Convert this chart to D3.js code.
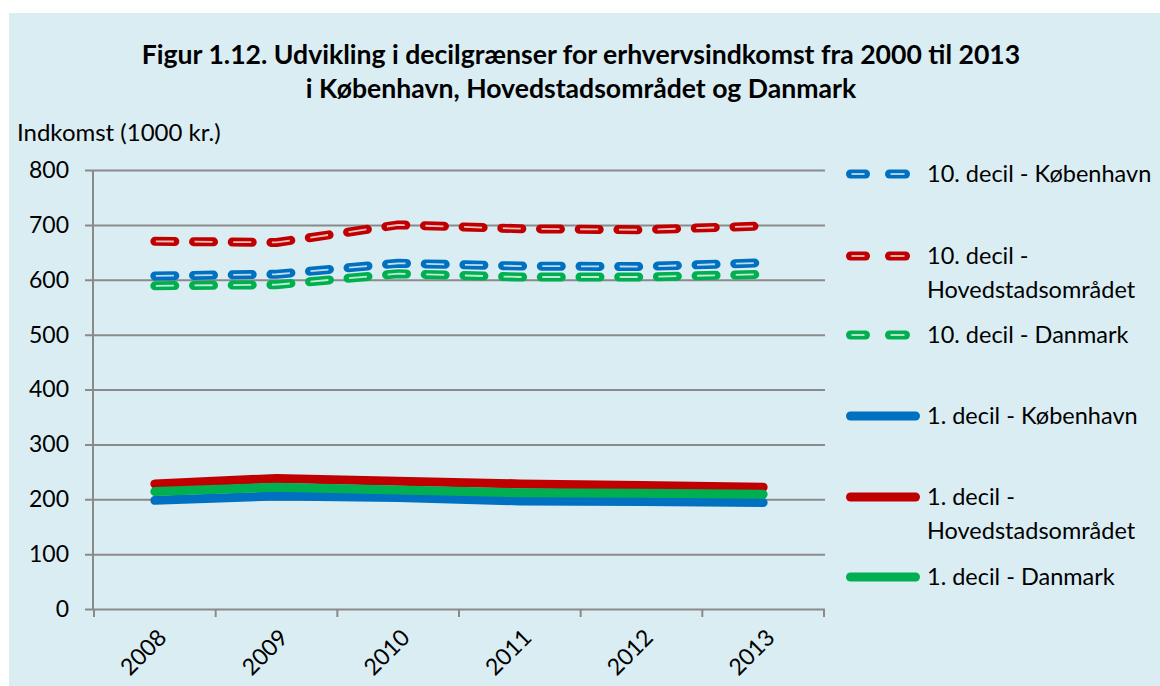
<!DOCTYPE html>
<html>
<head>
<meta charset="utf-8">
<script src="https://cdn.jsdelivr.net/npm/d3@7"></script>
<style>
  html, body { margin: 0; padding: 0; background: #fff; }
  svg { display: block; }
  text { font-family: Lato, "Open Sans", sans-serif; fill: #000; }
</style>
</head>
<body>
<div class="js-canvas"></div>
<script>
'use strict';

// data (1000 kr.)
const years = ['2008', '2009', '2010', '2011', '2012', '2013'];
const d10Kbh = [607, 610, 630, 625, 624, 631];
const d10Hov = [670, 668, 700, 693, 691, 698];
const d10Dk = [589, 591, 611, 605, 605, 610];
const d1Kbh = [198, 206, 203, 197, 196, 194];
const d1Hov = [228, 238, 233, 228, 225, 222];
const d1Dk = [214, 222, 217, 212, 211, 209];
const yTicks = [0, 100, 200, 300, 400, 500, 600, 700, 800];

const seriesNames = [
    ['10. decil - København'],
    ['10. decil -', 'Hovedstadsområdet'],
    ['10. decil - Danmark'],
    ['1. decil - København'],
    ['1. decil -', 'Hovedstadsområdet'],
    ['1. decil - Danmark']
];
const seriesValues = [d10Kbh, d10Hov, d10Dk, d1Kbh, d1Hov, d1Dk];
const seriesColors = ['#0070c0', '#c00000', '#00b050', '#0070c0', '#c00000', '#00b050'];
const seriesDashed = [true, true, true, false, false, false];

const config = {
    width: 1160,
    height: 686,
    plot: { left: 94, right: 824, top: 170, bottom: 609 },
    grid: '#8a8a8a'
};

const svg = d3.select('.js-canvas')
    .append('svg')
    .attr('width', config.width)
    .attr('height', config.height);

// chart area background
svg.append('rect')
    .attr('x', 9)
    .attr('y', 13)
    .attr('width', config.width - 9)
    .attr('height', config.height - 13)
    .attr('fill', '#daedf3');

// title
const title = svg.append('text')
    .attr('text-anchor', 'middle')
    .attr('font-weight', 'bold')
    .attr('font-size', 26.6);
title.append('tspan').attr('x', 581).attr('y', 64)
    .text('Figur 1.12. Udvikling i decilgrænser for erhvervsindkomst fra 2000 til 2013');
title.append('tspan').attr('x', 581).attr('y', 98)
    .text('i København, Hovedstadsområdet og Danmark');

svg.append('text')
    .attr('x', 17)
    .attr('y', 141)
    .attr('font-size', 24)
    .text('Indkomst (1000 kr.)');

const x = d3.scaleBand()
    .domain(years)
    .range([config.plot.left, config.plot.right]);

const y = d3.scaleLinear()
    .domain([0, 800])
    .range([config.plot.bottom, config.plot.top]);

// gridlines + y axis
const yAxis = d3.axisLeft(y)
    .tickValues(yTicks)
    .tickSize(-(config.plot.right - config.plot.left + 2))
    .tickPadding(24)
    .tickFormat(d => d);

const yAxisGroup = svg.append('g')
    .attr('transform', `translate(${config.plot.left - 1}, 0)`)
    .call(yAxis);
yAxisGroup.select('.domain').remove();
yAxisGroup.selectAll('.tick line')
    .attr('x1', -8)
    .attr('stroke', config.grid)
    .attr('stroke-width', 2);
yAxisGroup.selectAll('.tick text')
    .attr('font-size', 23)
    .attr('font-family', 'Lato, sans-serif')
    .attr('fill', '#000');

svg.append('line')
    .attr('x1', config.plot.left - 1).attr('x2', config.plot.left - 1)
    .attr('y1', config.plot.top).attr('y2', config.plot.bottom)
    .attr('stroke', config.grid).attr('stroke-width', 2);

// x axis: ticks at band edges
const xAxisGroup = svg.append('g')
    .attr('transform', `translate(0, ${config.plot.bottom})`);
xAxisGroup.selectAll('line.edge')
    .data(years.concat(['end']))
    .enter().append('line')
    .attr('class', 'edge')
    .attr('x1', (d, i) => config.plot.left + i * x.step())
    .attr('x2', (d, i) => config.plot.left + i * x.step())
    .attr('y1', 0).attr('y2', 8)
    .attr('stroke', config.grid).attr('stroke-width', 2);

xAxisGroup.selectAll('text.year')
    .data(years)
    .enter().append('text')
    .attr('class', 'year')
    .attr('font-size', 23)
    .attr('text-anchor', 'end')
    .attr('transform', d => `translate(${x(d) + x.bandwidth() / 2 + 13}, 30) rotate(-45)`)
    .text(d => d);

// series lines
const line = d3.line()
    .x((d, i) => x(years[i]) + x.bandwidth() / 2)
    .y(d => y(d));

const linesGroup = svg.append('g');
seriesValues.forEach((vals, i) => {
    const path = linesGroup.append('path')
        .datum(vals)
        .attr('d', line)
        .attr('fill', 'none')
        .attr('stroke', seriesColors[i])
        .attr('stroke-width', 9)
        .attr('stroke-linecap', 'round')
        .attr('stroke-linejoin', 'round');
    if (seriesDashed[i]) {
        path.attr('stroke-dasharray', '20 18.7');
        linesGroup.append('path')
            .datum(vals)
            .attr('d', line)
            .attr('fill', 'none')
            .attr('stroke', '#ffffff')
            .attr('stroke-opacity', 0.75)
            .attr('stroke-width', 1.8)
            .attr('stroke-dasharray', '18 20.7')
            .attr('stroke-dashoffset', -1);
    }
});

// legend
const legendRows = [174, 256, 335, 416, 497, 577];
const legend = svg.append('g');
seriesNames.forEach((lines, i) => {
    const g = legend.append('g')
        .attr('transform', `translate(0, ${legendRows[i]})`);
    if (seriesDashed[i]) {
        [[850.5, 865.5], [889.5, 905.5]].forEach(seg => {
            g.append('line')
                .attr('x1', seg[0]).attr('x2', seg[1])
                .attr('stroke', seriesColors[i])
                .attr('stroke-width', 9)
                .attr('stroke-linecap', 'round');
            g.append('line')
                .attr('x1', seg[0] + 1).attr('x2', seg[1] - 1)
                .attr('stroke', '#fff')
                .attr('stroke-opacity', 0.75)
                .attr('stroke-width', 1.8);
        });
    } else {
        g.append('line')
            .attr('x1', 850.5).attr('x2', 915.5)
            .attr('stroke', seriesColors[i])
            .attr('stroke-width', 9)
            .attr('stroke-linecap', 'round');
    }
    const t = g.append('text')
        .attr('font-size', 23.5);
    lines.forEach((l, j) => {
        t.append('tspan')
            .attr('x', 927)
            .attr('y', 8 + j * 34)
            .text(l);
    });
});
</script>
</body>
</html>
